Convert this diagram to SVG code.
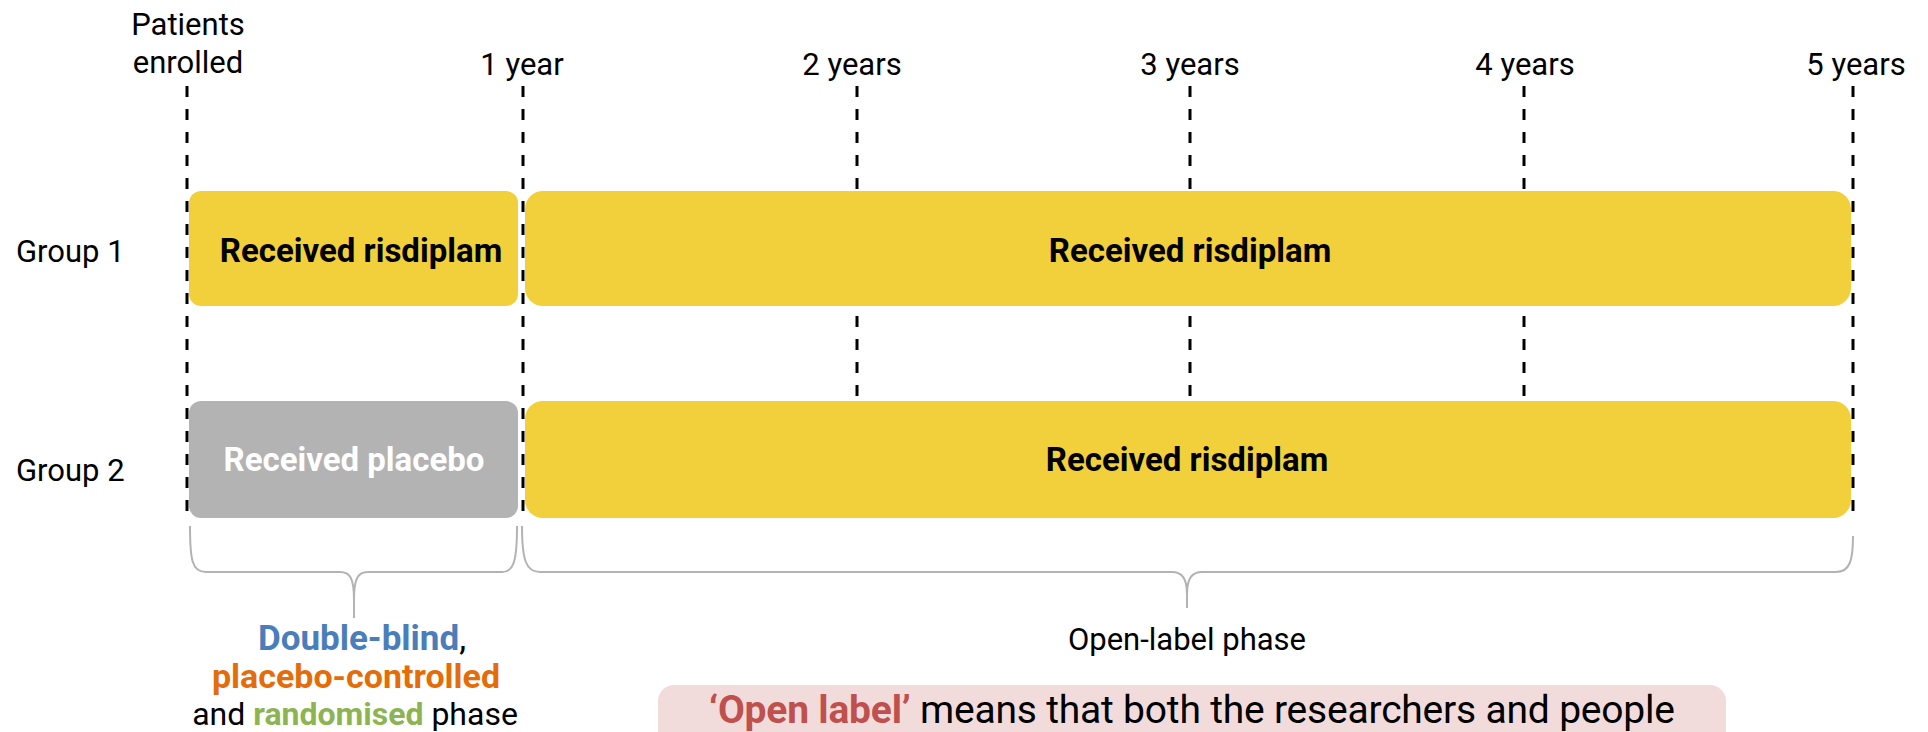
<svg xmlns="http://www.w3.org/2000/svg" width="1928" height="732" viewBox="0 0 1928 732">
<style>
.t{font-family:Roboto,"Liberation Sans",sans-serif;fill:#000;font-size:31px}
.b{font-family:Roboto,"Liberation Sans",sans-serif;font-weight:bold;font-size:33px}
.dash{stroke:#000;stroke-width:3;stroke-dasharray:11 12;fill:none}
.brace{stroke:#b3b3b3;stroke-width:2;fill:none}
.y{fill:#F2D03B}
.g{fill:#B3B3B3}
</style>
<rect width="1928" height="732" fill="#fff"/>
<g id="connectors">
<line class="dash" x1="187" y1="86" x2="187" y2="520"/>
<line class="dash" x1="523" y1="86" x2="523" y2="520"/>
<line class="dash" x1="857" y1="86" x2="857" y2="520"/>
<line class="dash" x1="1190" y1="86" x2="1190" y2="520"/>
<line class="dash" x1="1524" y1="86" x2="1524" y2="520"/>
<line class="dash" x1="1853" y1="86" x2="1853" y2="520"/>
<path class="brace" d="M190,526 C190,560 192,572 206,572 L340,572 C350,572 354,578 354,600 L354,618 M354,600 C354,578 358,572 368,572 L502,572 C514,572 517,560 517,526"/>
<path class="brace" d="M522,526 C522,560 526,572 540,572 L1172,572 C1182,572 1187,578 1187,595 L1187,608 M1187,595 C1187,578 1192,572 1202,572 L1836,572 C1850,572 1853,560 1853,536"/>
</g>
<g id="axis-labels">
<text class="t" x="188" y="35" text-anchor="middle">Patients</text>
<text class="t" x="188" y="73" text-anchor="middle">enrolled</text>
<text class="t" x="522" y="75" text-anchor="middle">1 year</text>
<text class="t" x="852" y="75" text-anchor="middle">2 years</text>
<text class="t" x="1190" y="75" text-anchor="middle">3 years</text>
<text class="t" x="1525" y="75" text-anchor="middle">4 years</text>
<text class="t" x="1856" y="75" text-anchor="middle">5 years</text>
</g>
<g id="group1-label"><text class="t" x="16" y="262">Group 1</text></g>
<g id="group2-label"><text class="t" x="16" y="481">Group 2</text></g>
<g id="g1-box1">
<rect class="y" x="189" y="191" width="329" height="115" rx="12"/>
<text class="b" x="361" y="262" text-anchor="middle">Received risdiplam</text>
</g>
<g id="g1-box2">
<rect class="y" x="525" y="191" width="1326" height="115" rx="18"/>
<text class="b" x="1190" y="262" text-anchor="middle">Received risdiplam</text>
</g>
<g id="g2-box1">
<rect class="g" x="189" y="401" width="329" height="117" rx="12"/>
<text class="b" x="354" y="471" text-anchor="middle" fill="#fff">Received placebo</text>
</g>
<g id="g2-box2">
<rect class="y" x="525" y="401" width="1326" height="117" rx="18"/>
<text class="b" x="1187" y="471" text-anchor="middle">Received risdiplam</text>
</g>
<g id="phase1-label">
<text class="t" x="362" y="650" text-anchor="middle" style="font-size:35px"><tspan font-weight="bold" fill="#4A7EBB">Double-blind</tspan>,</text>
<text class="b" x="356" y="688" text-anchor="middle" fill="#E46C0A" style="font-size:34px">placebo-controlled</text>
<text class="t" x="355" y="725" text-anchor="middle" style="font-size:32px">and <tspan font-weight="bold" fill="#8CB453">randomised</tspan> phase</text>
</g>
<g id="phase2-label">
<text class="t" x="1187" y="650" text-anchor="middle">Open-label phase</text>
</g>
<g id="note">
<rect x="658" y="685" width="1068" height="80" rx="16" fill="#F2DCDB"/>
<text class="t" x="1192" y="723" text-anchor="middle" style="font-size:39px" textLength="966" lengthAdjust="spacing"><tspan font-weight="bold" fill="#C0504D">‘Open label’</tspan> means that both the researchers and people</text>
</g>
</svg>
